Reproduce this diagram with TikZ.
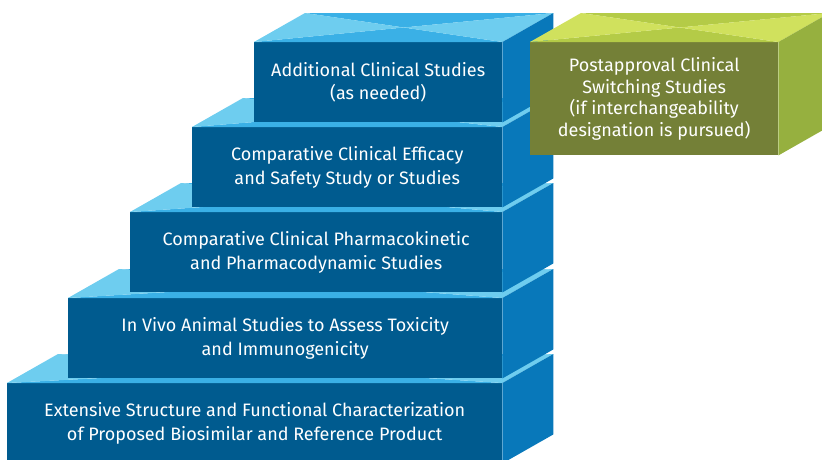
\documentclass[tikz,border=0pt]{standalone}
\usepackage{fontspec}
\setmainfont{Fira Sans}
\usetikzlibrary{calc}
\definecolor{frontblue}{RGB}{0,91,143}
\definecolor{sideblue}{RGB}{8,120,186}
\definecolor{topblue}{RGB}{58,176,230}
\definecolor{lightblue}{RGB}{110,205,239}
\definecolor{frontgreen}{RGB}{116,128,55}
\definecolor{sidegreen}{RGB}{150,176,63}
\definecolor{topgreen}{RGB}{180,203,71}
\definecolor{lightgreen}{RGB}{208,225,93}

% top and side faces of a step, hung on its front node
\newcommand{\stepfaces}[4]{%
  \coordinate (#1-c) at ($(#1.north west)!0.5!(#1.north east)+(25.5,-14.5)$);
  \fill[#2] (#1.north west) -- (#1.north east) -- (#1-c) -- cycle;
  \fill[#2] ($(#1.north west)+(51,-29)$) -- ($(#1.north east)+(51,-29)$) -- (#1-c) -- cycle;
  \fill[#3] (#1.north west) -- ++(51,-29) -- (#1-c) -- cycle;
  \fill[#3] (#1.north east) -- ++(51,-29) -- (#1-c) -- cycle;
  \fill[#4] (#1.north east) -- ++(51,-29) -- ($(#1.south east)+(51,-29)$) -- (#1.south east) -- cycle;
}

\begin{document}
\begin{tikzpicture}[x=1pt, y=-1pt,
    front/.style={rectangle, inner sep=0pt, anchor=north west, minimum height=80pt,
      text=white, align=center, font=\fontsize{18}{23.5}\selectfont}]
    \useasboundingbox (0,0) rectangle (822,459);
    \clip (0,0) rectangle (822,459);

    % steps, bottom to top
    \node[front, fill=frontblue, minimum width=495pt] (charact) at (7,383)
      {Extensive Structure and Functional Characterization\\of Proposed Biosimilar and Reference Product};
    \stepfaces{charact}{topblue}{lightblue}{sideblue}

    \node[front, fill=frontblue, minimum width=434pt] (animal) at (68,298)
      {In Vivo Animal Studies to Assess Toxicity\\and Immunogenicity};
    \stepfaces{animal}{topblue}{lightblue}{sideblue}

    \node[front, fill=frontblue, minimum width=372pt] (pkpd) at (130,212)
      {Comparative Clinical Pharmacokinetic\\and Pharmacodynamic Studies};
    \stepfaces{pkpd}{topblue}{lightblue}{sideblue}

    \node[front, fill=frontblue, minimum width=310pt] (efficacy) at (192,127)
      {Comparative Clinical Efficacy\\and Safety Study or Studies};
    \stepfaces{efficacy}{topblue}{lightblue}{sideblue}

    \node[front, fill=frontblue, minimum width=248pt] (additional) at (254,42)
      {Additional Clinical Studies\\(as needed)};
    \stepfaces{additional}{topblue}{lightblue}{sideblue}

    % postapproval box
    \node[front, fill=frontgreen, minimum width=248pt, minimum height=113pt,
      font=\fontsize{18}{21.5}\selectfont] (switching) at (530,42)
      {Postapproval Clinical\\Switching Studies\\(if interchangeability\\designation is pursued)};
    \stepfaces{switching}{topgreen}{lightgreen}{sidegreen}
\end{tikzpicture}
\end{document}
